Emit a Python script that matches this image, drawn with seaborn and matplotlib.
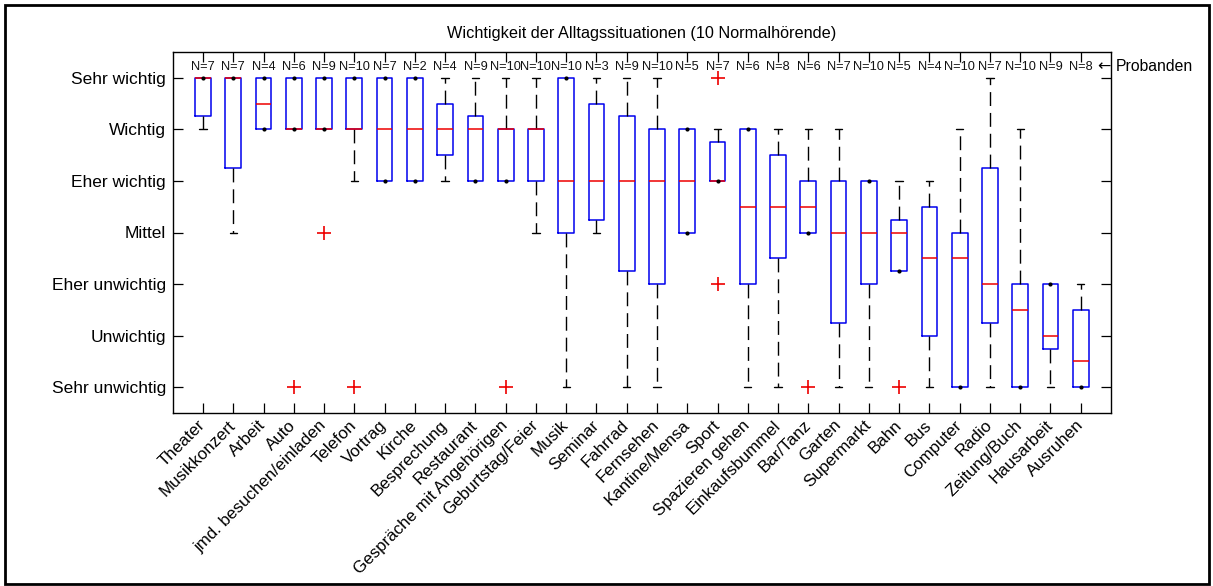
import numpy as np
import pandas as pd
import matplotlib
matplotlib.use("Agg")
import matplotlib.pyplot as plt
from matplotlib.patches import Rectangle
import seaborn as sns

# Situations, ordered by importance
categories = [
    "Theater", "Musikkonzert", "Arbeit", "Auto", "jmd. besuchen/einladen",
    "Telefon", "Vortrag", "Kirche", "Besprechung", "Restaurant",
    "Gespräche mit Angehörigen", "Geburtstag/Feier", "Musik", "Seminar",
    "Fahrrad", "Fernsehen", "Kantine/Mensa", "Sport", "Spazieren gehen",
    "Einkaufsbummel", "Bar/Tanz", "Garten", "Supermarkt", "Bahn", "Bus",
    "Computer", "Radio", "Zeitung/Buch", "Hausarbeit", "Ausruhen",
]

# Rating scale: 1 = Sehr unwichtig ... 7 = Sehr wichtig
scale_labels = ["Sehr unwichtig", "Unwichtig", "Eher unwichtig", "Mittel",
                "Eher wichtig", "Wichtig", "Sehr wichtig"]

# Number of respondents per situation
n_subjects = [7, 7, 4, 6, 9, 10, 7, 2, 4, 9, 10, 10, 10, 3, 9, 10, 5, 7, 6, 8,
              6, 7, 10, 5, 4, 10, 7, 10, 9, 8]

# Box statistics per situation
medians = [7, 7, 6.5, 6, 6, 6, 6, 6, 6, 6, 6, 6, 5, 5, 5, 5, 5, 5, 4.5, 4.5,
           4.5, 4, 4, 4, 3.5, 3.5, 3, 2.5, 2, 1.5]
q1 = [6.25, 5.25, 6, 6, 6, 6, 5, 5, 5.5, 5, 5, 5, 4, 4.25, 3.25, 3, 4, 5, 3,
      3.5, 4, 2.25, 3, 3.25, 2, 1, 2.25, 1, 1.75, 1]
q3 = [7, 7, 7, 7, 7, 7, 7, 7, 6.5, 6.25, 6, 6, 7, 6.5, 6.25, 6, 6, 5.75, 6,
      5.5, 5, 5, 5, 4.25, 4.5, 4, 5.25, 3, 3, 2.5]
whisker_low = [6, 4, 6, 6, 6, 5, 5, 5, 5, 5, 5, 4, 1, 4, 1, 1, 4, 5, 1, 1, 4,
               1, 1, 3.25, 1, 1, 1, 1, 1, 1]
whisker_high = [7, 7, 7, 7, 7, 7, 7, 7, 7, 7, 7, 7, 7, 7, 7, 7, 6, 6, 6, 6, 6,
                6, 5, 5, 5, 6, 7, 6, 3, 3]
outliers = {
    "Auto": [1],
    "jmd. besuchen/einladen": [4],
    "Telefon": [1],
    "Gespräche mit Angehörigen": [1],
    "Sport": [7, 3],
    "Bar/Tanz": [1],
    "Bahn": [1],
}

sns.set_theme(style="white")
plt.rcParams["font.family"] = ["Liberation Sans", "DejaVu Sans"]
plt.rcParams["text.color"] = "black"
plt.rcParams["axes.labelcolor"] = "black"
plt.rcParams["xtick.color"] = "black"
plt.rcParams["ytick.color"] = "black"

W, H = 1213, 586
fig = plt.figure(figsize=(W / 100, H / 100), dpi=100)
fig.patch.set_facecolor("white")

# outer frame around the whole figure
fig.add_artist(Rectangle((5 / W, 2 / H), 1204 / W, 579 / H,
                         transform=fig.transFigure, fill=False,
                         edgecolor="black", linewidth=2.0))

ax = fig.add_axes([172.7 / W, (H - 413) / H, (1111 - 172.7) / W, (413 - 52) / H])
positions = np.arange(len(categories))

stats = []
for i, cat in enumerate(categories):
    stats.append(dict(label=cat, med=medians[i], q1=q1[i], q3=q3[i],
                      whislo=whisker_low[i], whishi=whisker_high[i],
                      fliers=[]))

art = ax.bxp(stats, positions=positions, widths=0.52, capwidths=0.24,
             showfliers=False, manage_ticks=False,
             boxprops=dict(color="#0000ee", linewidth=1.1),
             medianprops=dict(color="#ee0000", linewidth=1.1),
             whiskerprops=dict(color="black", linewidth=1.0,
                               linestyle=(0, (10, 5))),
             capprops=dict(color="black", linewidth=1.0))

# whiskers that end on the box edge are shown as a dot instead of a cap
dot_x, dot_y = [], []
for i in range(len(categories)):
    if whisker_low[i] == q1[i]:
        art["caps"][2 * i].set_visible(False)
        dot_x.append(i)
        dot_y.append(q1[i])
    if whisker_high[i] == q3[i]:
        art["caps"][2 * i + 1].set_visible(False)
        dot_x.append(i)
        dot_y.append(q3[i])

dots = pd.DataFrame({"x": dot_x, "y": dot_y})
sns.scatterplot(data=dots, x="x", y="y", ax=ax, color="black", s=9,
                marker="o", edgecolor="black", linewidth=0, zorder=5,
                legend=False)

out_rows = [(categories.index(c), v) for c, vals in outliers.items() for v in vals]
out_df = pd.DataFrame(out_rows, columns=["x", "y"])
sns.scatterplot(data=out_df, x="x", y="y", ax=ax, color="#ee0000", s=90,
                marker="+", linewidth=1.2, zorder=5, legend=False)

# respondent counts along the top
for i, n in enumerate(n_subjects):
    ax.text(i, 7.21, f"N={n}", ha="center", va="center", fontsize=9.2,
            color="#111111")
ax.text(29.55, 7.21, "\u2190", ha="left", va="center", fontsize=11.5,
        family="DejaVu Sans", clip_on=False)
ax.text(30.15, 7.21, "Probanden", ha="left", va="center",
        fontsize=11.3, clip_on=False)

ax.set_xlim(-1, len(categories))
ax.set_ylim(0.5, 7.5)
ax.set_xticks(positions)
ax.set_xticklabels(categories, rotation=45, ha="right", va="center",
                   rotation_mode="anchor", fontsize=12.2)
ax.set_yticks(np.arange(1, 8))
ax.set_yticklabels(scale_labels, fontsize=12.5)
ax.tick_params(axis="both", direction="in", length=7, width=0.9,
               top=True, right=True, bottom=True, left=True)
ax.tick_params(axis="x", pad=7)
ax.tick_params(axis="y", pad=5)
ax.set_xlabel("")
ax.set_ylabel("")
for sp in ax.spines.values():
    sp.set_color("black")
    sp.set_linewidth(1.0)

ax.text(0.5, 1.0526, "Wichtigkeit der Alltagssituationen (10 Normalhörende)",
        transform=ax.transAxes, ha="center", va="center", fontsize=11.7)

fig.savefig("out.png", dpi=100, facecolor="white")
